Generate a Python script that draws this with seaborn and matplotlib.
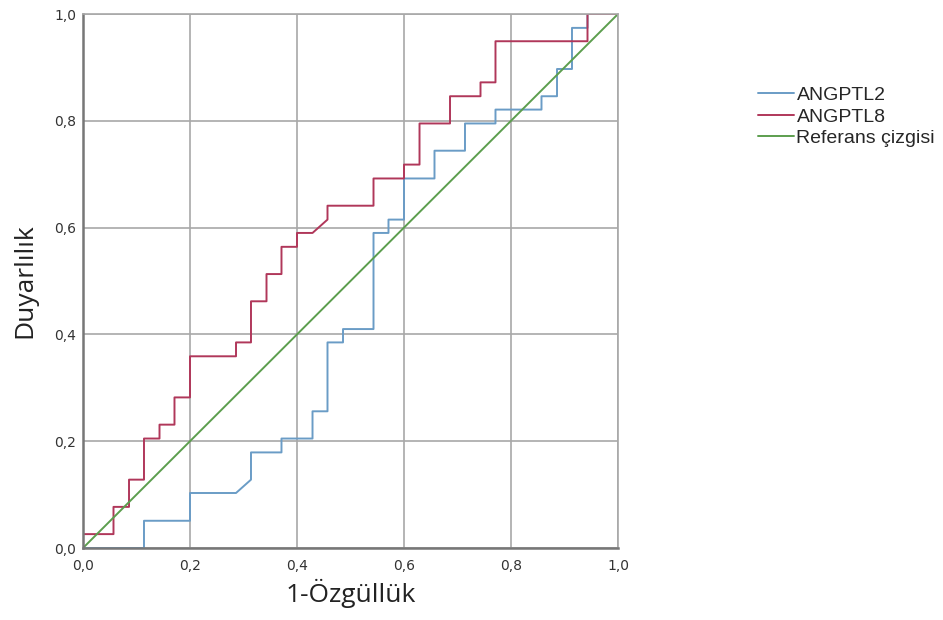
import matplotlib
matplotlib.use("Agg")
import matplotlib.pyplot as plt
import seaborn as sns
import pandas as pd
from matplotlib.ticker import FuncFormatter

# ROC curve vertices (1-specificity, sensitivity)
angptl2_fpr = [0.0, 0.114, 0.114, 0.2, 0.2, 0.286, 0.314, 0.314, 0.371, 0.371, 0.429, 0.429,
               0.457, 0.457, 0.486, 0.486, 0.543, 0.543, 0.571, 0.571, 0.6, 0.6, 0.657, 0.657,
               0.714, 0.714, 0.771, 0.771, 0.857, 0.857, 0.886, 0.886, 0.914, 0.914, 0.943, 0.943, 1.0]
angptl2_tpr = [0.0, 0.0, 0.051, 0.051, 0.103, 0.103, 0.128, 0.179, 0.179, 0.205, 0.205, 0.256,
               0.256, 0.385, 0.385, 0.41, 0.41, 0.59, 0.59, 0.615, 0.615, 0.692, 0.692, 0.744,
               0.744, 0.795, 0.795, 0.821, 0.821, 0.846, 0.846, 0.897, 0.897, 0.974, 0.974, 1.0, 1.0]

angptl8_fpr = [0.0, 0.0, 0.057, 0.057, 0.086, 0.086, 0.114, 0.114, 0.143, 0.143, 0.171, 0.171,
               0.2, 0.2, 0.286, 0.286, 0.314, 0.314, 0.343, 0.343, 0.371, 0.371, 0.4, 0.4,
               0.429, 0.457, 0.457, 0.543, 0.543, 0.6, 0.6, 0.629, 0.629, 0.686, 0.686, 0.743,
               0.743, 0.771, 0.771, 0.943, 0.943, 1.0]
angptl8_tpr = [0.0, 0.026, 0.026, 0.077, 0.077, 0.128, 0.128, 0.205, 0.205, 0.231, 0.231, 0.282,
               0.282, 0.359, 0.359, 0.385, 0.385, 0.462, 0.462, 0.513, 0.513, 0.564, 0.564, 0.59,
               0.59, 0.615, 0.641, 0.641, 0.692, 0.692, 0.718, 0.718, 0.795, 0.795, 0.846, 0.846,
               0.872, 0.872, 0.949, 0.949, 1.0, 1.0]

ref_fpr = [0.0, 1.0]
ref_tpr = [0.0, 1.0]

series_names = ["ANGPTL2", "ANGPTL8", "Referans çizgisi"]
tick_values = [0.0, 0.2, 0.4, 0.6, 0.8, 1.0]

rows = []
for name, xs, ys in zip(series_names,
                        [angptl2_fpr, angptl8_fpr, ref_fpr],
                        [angptl2_tpr, angptl8_tpr, ref_tpr]):
    for i, (a, b) in enumerate(zip(xs, ys)):
        rows.append({"fpr": a, "tpr": b, "series": name, "order": i})
df = pd.DataFrame(rows)

sns.set_theme(style="whitegrid")
plt.rcParams['font.family'] = ['DejaVu Sans']

fig = plt.figure(figsize=(9.43, 6.2), dpi=100)
ax = fig.add_axes([83 / 943, 1 - 548 / 620, (618 - 83) / 943, (548 - 14) / 620])

palette = {"ANGPTL2": "#6a9cc6", "ANGPTL8": "#b0375a", "Referans çizgisi": "#5c9e4e"}
sns.lineplot(data=df, x="fpr", y="tpr", hue="series", hue_order=series_names,
             palette=palette, sort=False, estimator=None, linewidth=1.4, ax=ax, legend=True)

ax.set_xlim(0, 1)
ax.set_ylim(0, 1)
ax.set_xticks(tick_values)
ax.set_yticks(tick_values)
fmt = FuncFormatter(lambda v, p: f"{v:.1f}".replace(".", ","))
ax.xaxis.set_major_formatter(fmt)
ax.yaxis.set_major_formatter(fmt)
ax.tick_params(axis="x", labelsize=10, pad=8, length=0, colors="#333333")
ax.tick_params(axis="y", labelsize=10, pad=5, length=0, colors="#333333")
ax.grid(True, color="#a8a8a8", linewidth=1.2)
ax.set_facecolor("white")
for s in ["top", "right"]:
    ax.spines[s].set_color("#a8a8a8")
    ax.spines[s].set_linewidth(1.2)
for s in ["left", "bottom"]:
    ax.spines[s].set_color("#777777")
    ax.spines[s].set_linewidth(1.8)
    ax.spines[s].set_visible(True)

ax.set_xlabel("1-Özgüllük", fontsize=19, family=["Open Sans", "DejaVu Sans"], color="#222222", labelpad=4)
ax.set_ylabel("Duyarlılık", fontsize=19, family=["Open Sans", "DejaVu Sans"], color="#222222", labelpad=12)

handles, labels = ax.get_legend_handles_labels()
ax.get_legend().remove()
leg = fig.legend(handles, labels, loc="upper left", bbox_to_anchor=(744 / 943, 1 - 73 / 620),
                 frameon=False, prop={"family": ["Liberation Sans", "DejaVu Sans"], "size": 14},
                 handlelength=1.85, handletextpad=0.15, labelspacing=0.2, borderpad=0.2)
for l in leg.get_lines():
    l.set_linewidth(1.4)

fig.savefig("out.png", dpi=100, facecolor="white")
